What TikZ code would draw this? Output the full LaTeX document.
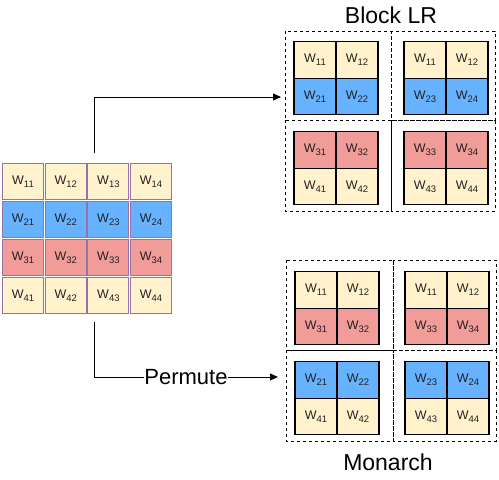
\documentclass[tikz,border=0pt]{standalone}
\usepackage{fontspec}
\setmainfont{Liberation Sans}
\usetikzlibrary{arrows.meta}
\definecolor{cy}{HTML}{FFF2CC}
\definecolor{cb}{HTML}{66B2FF}
\definecolor{cr}{HTML}{F19C99}
\definecolor{cp}{HTML}{9673A6}
\definecolor{ct}{HTML}{222222}
\newcommand{\wsub}[1]{W\raisebox{-3pt}{\fontsize{9.5}{10}\selectfont #1}}
\begin{document}
\begin{tikzpicture}[x=1pt,y=-1pt,
  lcell/.style={draw=cp,line width=0.9pt,minimum width=41pt,minimum height=36pt,inner sep=0pt,text=ct,font=\fontsize{12.5}{14}\selectfont},
  rcell/.style={draw=black,line width=1.4pt,minimum width=42pt,minimum height=36.5pt,inner sep=0pt,text=ct,font=\fontsize{12.5}{14}\selectfont},
  quad/.style={draw=black,dashed,line width=0.7pt},
  arr/.style={draw=black,line width=0.9pt,-{Triangle[length=8pt,width=7pt]}},
  title/.style={font=\fontsize{23}{26}\selectfont,text=black,anchor=base,inner sep=0pt}]
\useasboundingbox (0,0) rectangle (499,480);
% left matrix
\foreach \i/\c in {1/cy,2/cb,3/cr,4/cy}{
  \foreach \j in {1,2,3,4}{
    \node[lcell,fill=\c] (L\i\j) at ({23+42.7*(\j-1)},{181.5+38*(\i-1)}) {\wsub{\i\j}};
  }
}
% dashed quadrants
\draw[quad] (285,31) rectangle (391,120);
\draw[quad] (391,31) rectangle (495,120);
\draw[quad] (285,120) rectangle (391,211);
\draw[quad] (391,120) rectangle (495,211);
\draw[quad] (286,260) rectangle (393,350);
\draw[quad] (393,260) rectangle (496,350);
\draw[quad] (286,350) rectangle (393,441);
\draw[quad] (393,350) rectangle (496,441);
% sub-matrices
\foreach \nm/\x/\y/\ca/\cb/\a/\b/\c/\d in {
  A/315/60/cy/cb/11/12/21/22,
  B/425/60/cy/cb/11/12/23/24,
  C/315/150/cr/cy/31/32/41/42,
  D/425/150/cr/cy/33/34/43/44,
  E/316/290/cy/cr/11/12/31/32,
  F/426/290/cy/cr/11/12/33/34,
  G/316/380/cb/cy/21/22/41/42,
  H/426/380/cb/cy/23/24/43/44}{
  \node[rcell,fill=\ca] (\nm1) at (\x,\y) {\wsub{\a}};
  \node[rcell,fill=\ca] (\nm2) at (\x+42,\y) {\wsub{\b}};
  \node[rcell,fill=\cb] (\nm3) at (\x,\y+36.5) {\wsub{\c}};
  \node[rcell,fill=\cb] (\nm4) at (\x+42,\y+36.5) {\wsub{\d}};
}
% titles
\node[title] (tlr) at (391,23) {Block LR};
\node[title] (tmo) at (388,470) {Monarch};
% arrows
\coordinate (s1) at (94,153);
\coordinate (t1) at (281,97);
\coordinate (s2) at (94,322);
\coordinate (t2) at (278,377);
\draw[arr] (s1) |- (t1);
\draw[arr] (s2) |- node[pos=0.75,fill=white,inner sep=0.5pt,font=\fontsize{22}{24}\selectfont] (perm) {Permute} (t2);
\end{tikzpicture}
\end{document}
